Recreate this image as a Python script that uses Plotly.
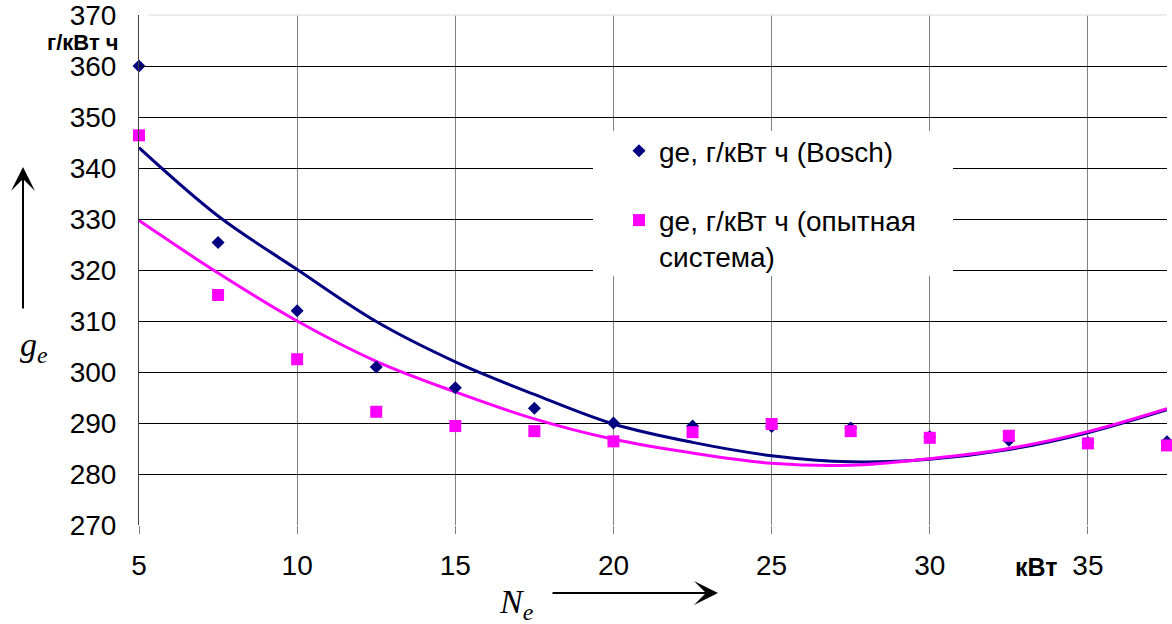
import plotly.graph_objects as go

# ---- data ----
x_pts = [5, 7.5, 10, 12.5, 15, 17.5, 20, 22.5, 25, 27.5, 30, 32.5, 35, 37.5]
ge_bosch = [360.0, 325.4, 312.0, 301.0, 296.9, 292.9, 290.0, 289.4, 289.3, 289.0, 287.3, 286.6, 286.2, 286.3]
ge_exp = [346.4, 315.1, 302.5, 292.2, 289.4, 288.4, 286.4, 288.2, 289.8, 288.4, 287.1, 287.5, 286.0, 285.6]

# trend lines as drawn in the reference
x_trend = [5, 7.5, 10, 12.5, 15, 17.5, 20, 22.5, 25, 27.5, 30, 32.5, 35, 37.5]
trend_bosch = [344.0, 330.6, 320.1, 309.9, 302.0, 295.6, 289.8, 286.2, 283.6, 282.4, 282.9, 284.8, 288.1, 292.6]
trend_exp = [329.7, 319.4, 310.0, 302.1, 296.1, 290.8, 286.8, 284.1, 282.1, 281.7, 283.0, 285.0, 288.3, 292.8]

x_ticks = [5, 10, 15, 20, 25, 30, 35]
y_ticks = [270, 280, 290, 300, 310, 320, 330, 340, 350, 360, 370]

name_bosch = "ge, г/кВт ч (Bosch)"
name_exp = "ge, г/кВт ч (опытная<br>система)"

NAVY = "#000080"
MAGENTA = "#FF00FF"
FONT = "Arial, Liberation Sans, sans-serif"
SERIF = "Times New Roman, Liberation Serif, serif"

fig = go.Figure()
fig.add_trace(go.Scatter(x=x_trend, y=trend_bosch, mode="lines", line=dict(color=NAVY, width=3, shape="spline"),
                         showlegend=False, hoverinfo="skip"))
fig.add_trace(go.Scatter(x=x_trend, y=trend_exp, mode="lines", line=dict(color=MAGENTA, width=3, shape="spline"),
                         showlegend=False, hoverinfo="skip"))
fig.add_trace(go.Scatter(x=x_pts, y=ge_bosch, mode="markers", name=name_bosch, legendgroup="a",
                         marker=dict(symbol="diamond", size=10, color=NAVY, line=dict(width=0)), cliponaxis=False))
fig.add_trace(go.Scatter(x=x_pts, y=ge_exp, mode="markers", name=name_exp, legendgroup="b",
                         marker=dict(symbol="square", size=12, color=MAGENTA, line=dict(width=0)), cliponaxis=False))

L, R, T, B = 139, 5, 15, 99
W, H = 1172, 624
pw, ph = W - L - R, H - T - B


def px(xp):
    return (xp - L) / pw


def py(yp):
    return (H - B - yp) / ph


fig.update_layout(
    width=W, height=H,
    margin=dict(l=L, r=R, t=T, b=B, pad=0, autoexpand=False),
    paper_bgcolor="white", plot_bgcolor="white",
    font=dict(family=FONT, size=28, color="black"),
    showlegend=True,
    legend=dict(x=px(619), y=py(126), xanchor="left", yanchor="top", bgcolor="rgba(0,0,0,0)",
                font=dict(size=28, family=FONT, color="black"), tracegroupgap=30, valign="top",
                itemwidth=30, borderwidth=0),
    xaxis=dict(range=[5, 37.5], tickmode="array", tickvals=x_ticks, ticktext=[str(v) for v in x_ticks],
               showgrid=True, gridcolor="#808080", gridwidth=1, zeroline=False, automargin=False,
               ticks="outside", ticklen=8, tickcolor="#808080", tickwidth=1,
               showline=False, ticklabelstandoff=7, ticklabeloverflow="allow",
               tickfont=dict(size=28, family=FONT, color="black")),
    yaxis=dict(range=[270, 370], tickmode="array", tickvals=y_ticks, ticktext=[str(v) for v in y_ticks],
               showgrid=True, gridcolor="black", gridwidth=1, zeroline=False, automargin=False,
               ticks="inside", ticklen=8, tickcolor="black", tickwidth=1,
               showline=True, linecolor="#404040", linewidth=1, ticklabelstandoff=16,
               ticklabeloverflow="allow",
               tickfont=dict(size=28, family=FONT, color="black")),
    shapes=[
        dict(type="line", xref="paper", yref="paper", x0=px(148), x1=1, y0=1, y1=1,
             line=dict(color="#e6e6e6", width=1.5), layer="above"),
        dict(type="rect", xref="paper", yref="paper", x0=px(593), x1=px(953), y0=py(276), y1=py(131),
             fillcolor="white", line=dict(width=0), layer="above"),
    ],
    annotations=[
        dict(text="<b>г/кВт ч</b>", xref="paper", yref="paper", x=px(83), y=py(42),
             xanchor="center", yanchor="middle", showarrow=False, font=dict(size=22, family=FONT)),
        dict(text="<b>кВт</b>", xref="paper", yref="paper", x=px(1036), y=py(567),
             xanchor="center", yanchor="middle", showarrow=False, font=dict(size=25, family=FONT)),
        dict(text="<i>g<sub>e</sub></i>", xref="paper", yref="paper", x=px(34), y=py(347),
             xanchor="center", yanchor="middle", showarrow=False, font=dict(size=34, family=SERIF)),
        dict(text="<i>N<sub>e</sub></i>", xref="paper", yref="paper", x=px(516), y=py(604),
             xanchor="center", yanchor="middle", showarrow=False, font=dict(size=34, family=SERIF)),
        dict(text="", xref="paper", yref="paper", x=px(23), y=py(167), ax=0, ay=143,
             showarrow=True, arrowhead=3, arrowsize=2, arrowwidth=2, arrowcolor="black",
             standoff=0, startstandoff=0),
        dict(text="", xref="paper", yref="paper", x=px(718), y=py(593), ax=-167, ay=0,
             showarrow=True, arrowhead=3, arrowsize=2, arrowwidth=2, arrowcolor="black",
             standoff=0, startstandoff=0),
    ],
)

fig.write_html("out.html", post_script="document.body.style.margin='0';",
               config={"displayModeBar": False})
